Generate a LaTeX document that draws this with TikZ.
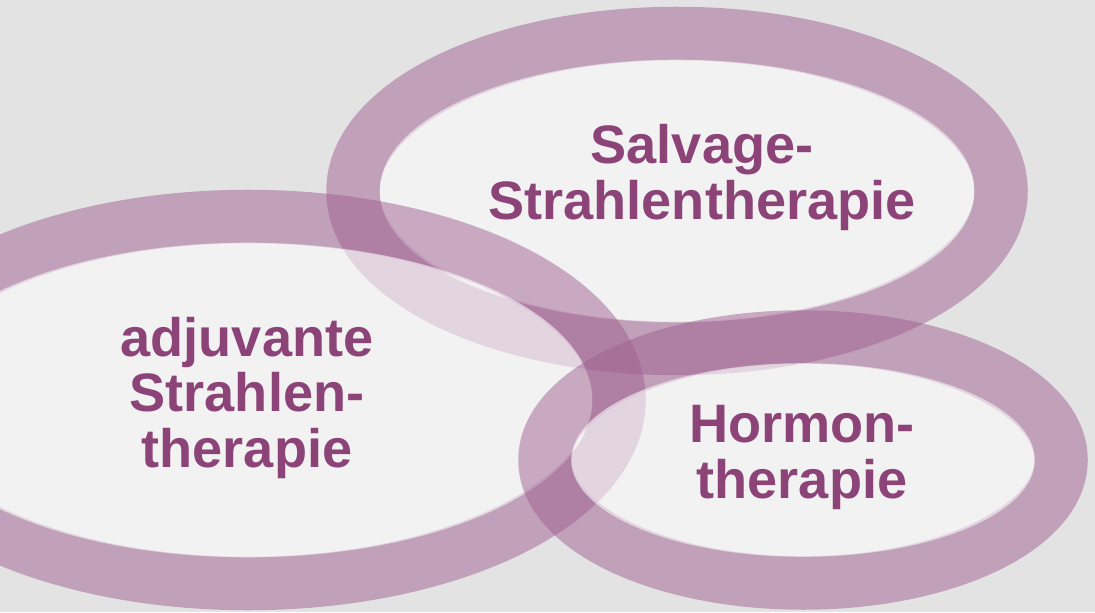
\documentclass[tikz,border=0pt]{standalone}
\usepackage{fontspec}
\setmainfont{Liberation Sans}
\usepackage{xcolor}
\usepackage{tikz}
\usetikzlibrary{positioning}
\definecolor{therapurple}{HTML}{8C4478}
\definecolor{theraring}{HTML}{9F6191}
\definecolor{therabg}{HTML}{E3E3E3}

\begin{document}
\begin{tikzpicture}[
  bubblering/.style={draw=theraring,draw opacity=0.5,line width=0.535cm},
  bubblefill/.style={fill=white,fill opacity=0.56},
  bubbletext/.style={align=center,text=therapurple,font=\fontsize{15.4}{15.7}\selectfont\bfseries}
]
\useasboundingbox (0,0) rectangle (10.95,6.12);
\clip (0,0) rectangle (10.95,6.12);
\fill[therabg] (0,0) rectangle (10.95,6.12);

\coordinate (salvage) at (6.77,4.21);
\coordinate (adjuvant) at (2.48,2.12);
\coordinate (hormon) at (8.03,1.52);

% rings first, then the pale inside, one bubble after the other
\foreach \c/\rx/\ry/\ix/\iy in {salvage/3.24/1.575/2.973/1.313,
    adjuvant/3.71/1.835/3.443/1.573, hormon/2.58/1.23/2.318/0.968} {
  \draw[bubblering] (\c) ellipse [x radius=\rx, y radius=\ry];
  \fill[bubblefill] (\c) ellipse [x radius=\ix, y radius=\iy];
}

\node[bubbletext] (salvagetext) at ([shift={(0.25,0.135)}]salvage) {Salvage-\\Strahlentherapie};
\node[bubbletext] (adjuvanttext) at ([shift={(-0.01,0.02)}]adjuvant) {adjuvante\\Strahlen-\\therapie};
\node[bubbletext] (hormontext) at ([shift={(-0.01,0.025)}]hormon) {Hormon-\\therapie};
\end{tikzpicture}
\end{document}
